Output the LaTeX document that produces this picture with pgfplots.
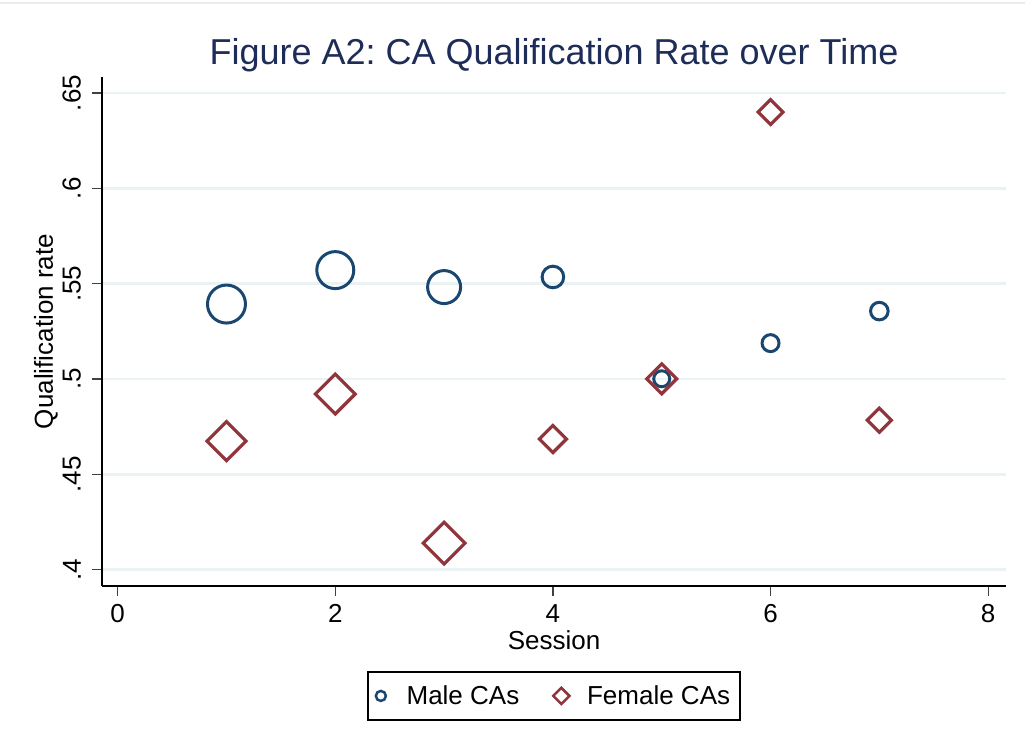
\documentclass[border=0pt]{standalone}
\usepackage{pgfplots}
\pgfplotsset{compat=1.18}
\usepackage{pgfplotstable}
\usepackage{fontspec}
\setmainfont{Liberation Sans}
\frenchspacing
\definecolor{maleC}{RGB}{26,71,111}
\definecolor{femC}{RGB}{144,53,59}
\definecolor{titleC}{RGB}{30,44,88}
\definecolor{gridC}{RGB}{234,242,243}

\pgfplotstableread{
x y r
1 0.5393 19
2 0.5571 18.5
3 0.5482 16.5
4 0.5535 10.8
5 0.5001 8
6 0.5188 8.5
7 0.5356 8.8
}\male

\pgfplotstableread{
x y r
1 0.4674 13.8
2 0.4921 14.1
3 0.4139 14.8
4 0.4685 9.6
5 0.5001 10.6
6 0.6400 8.8
7 0.4784 8.5
}\female

\begin{document}
\begin{tikzpicture}
\useasboundingbox (0,0) rectangle (1025pt,750pt);
\draw[color=gray!15, line width=1.5pt] (0,747pt) -- (1025pt,747pt);
\begin{axis}[
  at={(102pt,164pt)}, anchor=south west,
  scale only axis, width=904pt, height=509pt,
  xmin=-0.144, xmax=8.164, ymin=0.3914, ymax=0.6584,
  axis x line*=bottom, axis y line*=left,
  axis line style={line width=1.5pt, black, -},
  tick align=outside, major tick length=10pt,
  every tick/.style={line width=1.2pt, black!75},
  xtick={0,2,4,6,8},
  ytick={0.4,0.45,0.5,0.55,0.6,0.65},
  yticklabels={.4,.45,.5,.55,.6,.65},
  ymajorgrids, grid style={gridC, line width=2.5pt},
  tick label style={font=\fontsize{26}{30}\selectfont},
  /pgf/number format/assume math mode=true,
  yticklabel style={rotate=90, anchor=south, inner sep=0pt, yshift=11pt},
  xticklabel style={anchor=north, inner sep=0pt, yshift=-8pt},
  title={Figure A2: CA Qualification Rate over Time},
  title style={at={(axis description cs:0.5,1)}, anchor=base, yshift=6pt, font=\fontsize{36}{40}\selectfont, color=titleC},
  xlabel={Session},
  xlabel style={at={(axis description cs:0.5,-0.1257)}, anchor=base, font=\fontsize{26}{30}\selectfont},
  ylabel={Qualification rate},
  ylabel style={at={(axis description cs:-0.062,0.5)}, anchor=center, rotate=0, font=\fontsize{26}{30}\selectfont},
  legend style={at={(axis description cs:0.5,-0.167)}, anchor=north, draw=black, line width=1.5pt,
    font=\fontsize{26}{30}\selectfont, legend columns=2, inner xsep=8pt, inner ysep=12pt,
    /tikz/every even column/.append style={column sep=32pt}},
  legend cell align=left,
  legend image code/.code={\path (0pt,0pt) (27pt,0pt); \draw[#1, line width=2.5pt] plot coordinates {(4pt,0pt)};},
  clip=false,
]
\addlegendimage{only marks, mark=o, maleC, mark size=5pt}
\addlegendentry{Male CAs}
\addlegendimage{only marks, mark=square, femC, mark size=5.7pt, mark options={rotate=45}}
\addlegendentry{Female CAs\hspace{11pt}}

\addplot[scatter, only marks, mark=o, forget plot, point meta=y,
  line width=3pt,
  scatter/use mapped color={draw=maleC, fill=none},
  visualization depends on={\thisrow{r} \as \rr},
  scatter/@pre marker code/.append style={/tikz/mark size=\rr}]
  table[x=x, y=y] {\male};

\addplot[scatter, only marks, mark=square, forget plot, point meta=y,
  line width=3.2pt,
  mark options={rotate=45},
  scatter/use mapped color={draw=femC, fill=none},
  visualization depends on={\thisrow{r} \as \rr},
  scatter/@pre marker code/.append style={/tikz/mark size=\rr}]
  table[x=x, y=y] {\female};
\end{axis}
\end{tikzpicture}
\end{document}
